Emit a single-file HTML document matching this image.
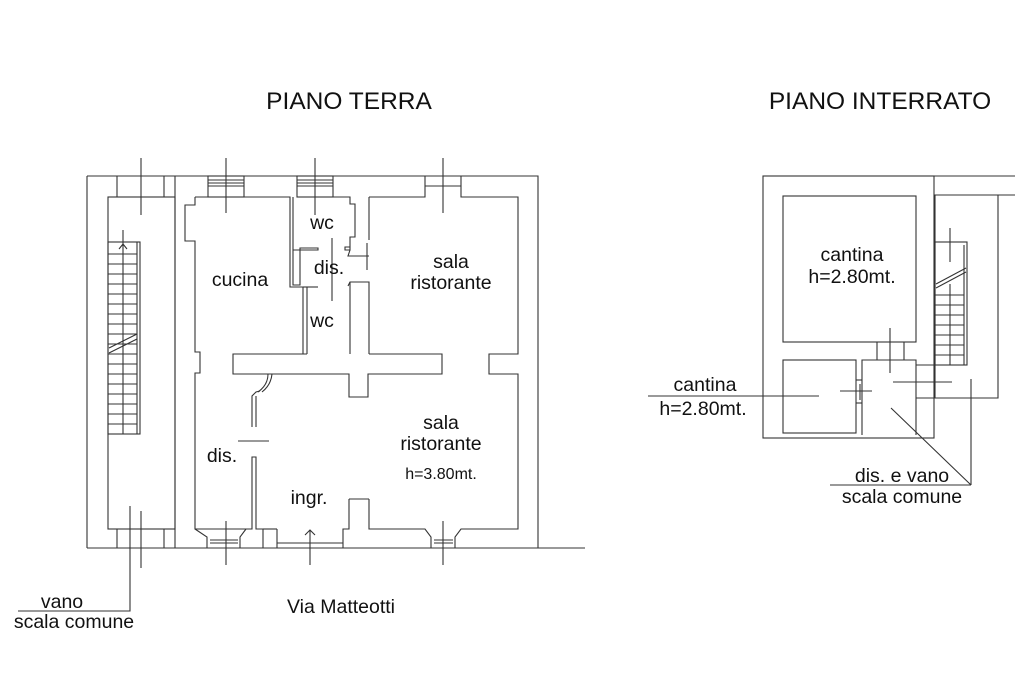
<!DOCTYPE html>
<html><head><meta charset="utf-8"><style>
html,body{margin:0;padding:0;background:#fff;width:1024px;height:683px;overflow:hidden}
svg{display:block}
text{font-family:"Liberation Sans",Arial,sans-serif;fill:#111}
</style></head><body>
<svg width="1024" height="683" viewBox="0 0 1024 683" xmlns="http://www.w3.org/2000/svg">
<g fill="none" stroke="#333" stroke-width="1.1">
<polyline points="87,176 538,176 538,548"/>
<line x1="87" y1="176" x2="87" y2="548"/>
<line x1="87" y1="548" x2="585" y2="548"/>
<rect x="108" y="197" width="67" height="332"/>
<line x1="175" y1="176" x2="175" y2="548"/>
<line x1="117" y1="176" x2="117" y2="197"/><line x1="164" y1="176" x2="164" y2="197"/>
<line x1="117" y1="529" x2="117" y2="548"/><line x1="164" y1="529" x2="164" y2="548"/>
<line x1="141" y1="158" x2="141" y2="215"/>
<line x1="141" y1="511" x2="141" y2="568"/>
<rect x="108" y="242" width="32" height="192"/>
<line x1="137" y1="242" x2="137" y2="434"/>
<line x1="123" y1="230" x2="123" y2="434"/>
<g>
<line x1="108" y1="254" x2="137" y2="254"/><line x1="108" y1="264" x2="137" y2="264"/><line x1="108" y1="274" x2="137" y2="274"/><line x1="108" y1="284" x2="137" y2="284"/><line x1="108" y1="294" x2="137" y2="294"/><line x1="108" y1="304" x2="137" y2="304"/><line x1="108" y1="314" x2="137" y2="314"/><line x1="108" y1="324" x2="137" y2="324"/><line x1="108" y1="334" x2="137" y2="334"/><line x1="108" y1="344" x2="137" y2="344"/><line x1="108" y1="354" x2="137" y2="354"/><line x1="108" y1="364" x2="137" y2="364"/><line x1="108" y1="374" x2="137" y2="374"/><line x1="108" y1="384" x2="137" y2="384"/><line x1="108" y1="394" x2="137" y2="394"/><line x1="108" y1="404" x2="137" y2="404"/><line x1="108" y1="414" x2="137" y2="414"/><line x1="108" y1="424" x2="137" y2="424"/>
</g>
<line x1="109" y1="348" x2="137" y2="334"/><line x1="109" y1="353" x2="137" y2="339"/>
<polyline points="119,249 123,244 127,249"/>
<polyline points="195,197 195,205 185,205 185,241 195,241 195,352 200,352 200,373 195,373 195,529 252,529 252,457 256,457 256,529 263,529 263,548"/>
<polyline points="195,197 290,197 290,287 303,287 303,354"/>
<polyline points="293,197 293,285 300,285 300,248 318,248 318,250 293,250"/>
<line x1="307" y1="287" x2="307" y2="354"/><line x1="303" y1="287" x2="318" y2="287"/>
<rect x="208" y="176" width="36" height="21"/>
<line x1="208" y1="180" x2="244" y2="180"/><line x1="208" y1="183" x2="244" y2="183"/><line x1="208" y1="186" x2="244" y2="186"/>
<line x1="226" y1="158" x2="226" y2="213"/>
<rect x="297" y="176" width="36" height="21"/>
<line x1="297" y1="180" x2="333" y2="180"/><line x1="297" y1="183" x2="333" y2="183"/><line x1="297" y1="186" x2="333" y2="186"/>
<line x1="315" y1="158" x2="315" y2="215"/>
<polyline points="333,197 350,197 350,204 355,204 355,237 350,237 350,250 345,250 345,247 350,247"/>
<polyline points="350,250 348,256 369,256"/>
<line x1="367" y1="243" x2="367" y2="270"/>
<line x1="332" y1="238" x2="332" y2="301"/>
<polyline points="348,286 350,282 369,282 369,354"/>
<line x1="350" y1="282" x2="350" y2="354"/>
<line x1="369" y1="197" x2="369" y2="240"/>
<polyline points="369,197 425,197 425,176"/>
<polyline points="461,176 461,197 518,197 518,354 489,354 489,374 518,374 518,529 461,529 455,537 455,548"/>
<line x1="443" y1="158" x2="443" y2="213"/>
<line x1="425" y1="186" x2="461" y2="186"/>
<polyline points="307,354 233,354 233,374 349,374 349,397 368,397 368,374 442,374 442,354 369,354"/>
<polyline points="252,427 252,396 256,392 260,391"/>
<line x1="256" y1="427" x2="256" y2="396"/>
<path d="M258,392 Q268,385 268,374"/><path d="M262,392 Q271,385 272,374"/>
<line x1="238" y1="441" x2="269" y2="441"/>
<polyline points="369,499 369,529 425,529 431,537 431,548"/>
<polyline points="349,499 369,499"/>
<polyline points="349,499 349,529 343,529 343,548"/>
<line x1="277" y1="543" x2="343" y2="543"/>
<line x1="263" y1="529" x2="277" y2="529"/><line x1="277" y1="529" x2="277" y2="548"/>
<polyline points="195,529 207,537 207,548"/><polyline points="246,529 240,537 240,548"/>
<line x1="210" y1="540" x2="238" y2="540"/><line x1="210" y1="543" x2="238" y2="543"/>
<line x1="226" y1="521" x2="226" y2="565"/>
<line x1="434" y1="540" x2="453" y2="540"/><line x1="434" y1="543" x2="453" y2="543"/>
<line x1="443" y1="521" x2="443" y2="565"/>
<line x1="310" y1="530" x2="310" y2="565"/><polyline points="305,535 310,530 315,535"/>
<polyline points="130,506 130,611 18,611"/>

<rect x="763" y="176" width="171" height="262"/>
<line x1="934" y1="176" x2="1015" y2="176"/>
<line x1="934" y1="195" x2="1015" y2="195"/>
<polyline points="998,195 998,398 934,398"/>
<rect x="783" y="196" width="133" height="146"/>
<rect x="783" y="360" width="73" height="73"/>
<polyline points="862,435 862,360 916,360 916,435"/>
<line x1="856" y1="380" x2="862" y2="380"/><line x1="856" y1="403" x2="862" y2="403"/>
<line x1="877" y1="342" x2="877" y2="360"/><line x1="904" y1="342" x2="904" y2="360"/>
<line x1="890" y1="328" x2="890" y2="373"/>
<line x1="916" y1="365" x2="935" y2="365"/><line x1="916" y1="398" x2="935" y2="398"/>
<line x1="935" y1="195" x2="935" y2="398"/>
<rect x="935" y="242" width="32" height="123"/>
<line x1="964" y1="245" x2="964" y2="365"/>
<line x1="950" y1="228" x2="950" y2="262"/>
<line x1="950" y1="284" x2="950" y2="365"/>
<line x1="936" y1="284" x2="966" y2="268"/><line x1="936" y1="288" x2="966" y2="272"/>
<line x1="935" y1="295" x2="964" y2="295"/><line x1="935" y1="305" x2="964" y2="305"/><line x1="935" y1="315" x2="964" y2="315"/><line x1="935" y1="325" x2="964" y2="325"/><line x1="935" y1="335" x2="964" y2="335"/><line x1="935" y1="345" x2="964" y2="345"/><line x1="935" y1="355" x2="964" y2="355"/>
<line x1="893" y1="382" x2="952" y2="382"/>
<line x1="840" y1="391" x2="872" y2="391"/><line x1="860" y1="384" x2="860" y2="400"/>
<line x1="648" y1="396" x2="819" y2="396"/>
<line x1="891" y1="408" x2="971" y2="485"/>
<line x1="971" y1="379" x2="971" y2="485"/>
<line x1="830" y1="485" x2="971" y2="485"/>
</g>
<g font-size="19.5" text-anchor="middle">
<text x="349" y="109" font-size="24.5">PIANO TERRA</text>
<text x="880" y="109" font-size="24.5">PIANO INTERRATO</text>
<text x="240" y="286">cucina</text>
<text x="322" y="229">wc</text>
<text x="329" y="274">dis.</text>
<text x="322" y="327">wc</text>
<text x="451" y="268">sala</text>
<text x="451" y="289">ristorante</text>
<text x="441" y="429">sala</text>
<text x="441" y="450">ristorante</text>
<text x="441" y="479" font-size="16">h=3.80mt.</text>
<text x="222" y="462">dis.</text>
<text x="309" y="504">ingr.</text>
<text x="341" y="613">Via Matteotti</text>
<text x="62" y="608">vano</text>
<text x="74" y="628">scala comune</text>
<text x="852" y="261">cantina</text>
<text x="852" y="283">h=2.80mt.</text>
<text x="705" y="391">cantina</text>
<text x="703" y="415">h=2.80mt.</text>
<text x="902" y="482">dis. e vano</text>
<text x="902" y="503">scala comune</text>
</g>
</svg>
</body></html>
